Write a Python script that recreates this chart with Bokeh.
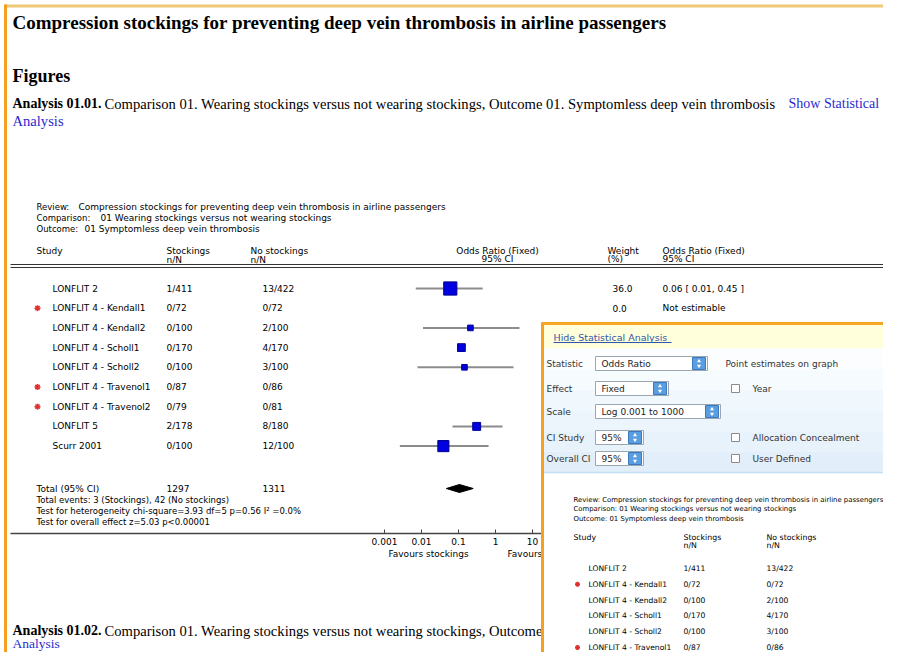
import math
from bokeh.plotting import figure
from bokeh.models import Range1d, LogScale
from bokeh.core.properties import value
from bokeh.embed import file_html
from bokeh.resources import INLINE

nan = float("nan")

# ---------------- data ----------------
page_title = "Compression stockings for preventing deep vein thrombosis in airline passengers"
section_title = "Figures"
analysis1_bold = "Analysis 01.01."
analysis1_text = "Comparison 01. Wearing stockings versus not wearing stockings, Outcome 01. Symptomless deep vein thrombosis"
analysis2_bold = "Analysis 01.02."
analysis2_text = "Comparison 01. Wearing stockings versus not wearing stockings, Outcome"
review_labels = ["Review:", "Comparison:", "Outcome:"]
review_values = ["Compression stockings for preventing deep vein thrombosis in airline passengers",
                 "01 Wearing stockings versus not wearing stockings",
                 "01 Symptomless deep vein thrombosis"]

studies = ["LONFLIT 2", "LONFLIT 4 - Kendall1", "LONFLIT 4 - Kendall2", "LONFLIT 4 - Scholl1",
           "LONFLIT 4 - Scholl2", "LONFLIT 4 - Travenol1", "LONFLIT 4 - Travenol2", "LONFLIT 5",
           "Scurr 2001"]
excluded = [False, True, False, False, False, True, True, False, False]
stock_events = [1, 0, 0, 0, 0, 0, 0, 2, 0]
stock_n = [411, 72, 100, 170, 100, 87, 79, 178, 100]
nostock_events = [13, 0, 2, 4, 3, 0, 0, 8, 12]
nostock_n = [422, 72, 100, 170, 100, 86, 81, 180, 100]
weights = [36.0, 0.0, 6.5, 12.5, 6.5, 0.0, 0.0, 13.0, 25.5]
or_est = [0.06, nan, 0.21, 0.12, 0.145, nan, nan, 0.31, 0.039]
or_lo = [0.007, nan, 0.011, nan, 0.0078, nan, nan, 0.069, 0.0026]
or_hi = [0.45, nan, 4.45, nan, 3.06, nan, nan, 1.55, 0.65]
total_est, total_lo, total_hi = 0.106, 0.047, 0.25
heterogeneity = "Test for heterogeneity chi-square=3.93 df=5 p=0.56 I\u00b2 =0.0%"
overall = "Test for overall effect z=5.03 p<0.00001"
axis_ticks = [0.001, 0.01, 0.1, 1, 10, 100, 1000]
axis_labels = ["0.001", "0.01", "0.1", "1", "10", "100", "1000"]

dlg_rows = [("Statistic", "Odds Ratio", 112, "Point estimates on graph", False),
            ("Effect", "Fixed", 73, "Year", True),
            ("Scale", "Log 0.001 to 1000", 125, "", False),
            ("CI Study", "95%", 48, "Allocation Concealment", True),
            ("Overall CI", "95%", 48, "User Defined", True)]

# ---------------- figure ----------------
W, H = 883, 652
p = figure(width=W, height=H, x_range=Range1d(0, W), y_range=Range1d(H, 0),
           toolbar_location=None, output_backend="svg", min_border=0,
           x_axis_location=None, y_axis_location=None, outline_line_color=None)
p.grid.visible = False
# log scale for the forest plot: 1 at px 495, 37 px per decade
C1, DEC = 495.0, 37.0
p.extra_x_ranges = {"or": Range1d(10 ** ((0 - C1) / DEC), 10 ** ((W - C1) / DEC))}
p.extra_x_scales = {"or": LogScale()}

SERIF = "Liberation Serif"
SANS = "DejaVu Sans"


def txt(x, y, s, size, font=SANS, color="#000000", bold=False, align="left", rng="default"):
    p.text(x=[x], y=[y], text=[s], text_font=value(font), text_font_size=f"{size}px",
           text_color=color, text_font_style="bold" if bold else "normal",
           text_align=align, text_baseline="middle", x_range_name=rng)


# page frame
p.segment(x0=[4], x1=[W], y0=[5.5], y1=[5.5], line_color="#f0c878", line_width=3)
p.segment(x0=[5], x1=[5], y0=[4], y1=[H], line_color="#f5a020", line_width=3)

# page text
txt(12, 22, page_title, 19, SERIF, bold=True)
txt(12, 75, section_title, 18, SERIF, bold=True)
txt(12, 103, analysis1_bold, 14, SERIF, bold=True)
txt(104, 103, analysis1_text, 14.6, SERIF)
txt(788, 103, "Show Statistical", 14, SERIF, color="#2a2ad0")
txt(12, 120, "Analysis", 14.6, SERIF, color="#2a2ad0")
txt(12, 630, analysis2_bold, 14, SERIF, bold=True)
txt(104, 630, analysis2_text, 14.6, SERIF)
txt(12, 643, "Analysis", 13.5, SERIF, color="#2a2ad0")

# forest plot header
FS = 9
rv_x = [78, 100, 84]
for i in range(3):
    txt(36, 206 + 11 * i, review_labels[i], 8.5)
    txt(rv_x[i], 206 + 11 * i, review_values[i], 9)
txt(36, 250, "Study", FS)
txt(166, 250, "Stockings", FS)
txt(166, 259, "n/N", FS)
txt(250, 250, "No stockings", FS)
txt(250, 259, "n/N", FS)
txt(497, 250, "Odds Ratio (Fixed)", FS, align="center")
txt(497, 258, "95% CI", FS, align="center")
txt(607, 250, "Weight", FS)
txt(607, 258, "(%)", FS)
txt(662, 250, "Odds Ratio (Fixed)", FS)
txt(662, 258, "95% CI", FS)
p.segment(x0=[10, 10], x1=[W, W], y0=[264, 267], y1=[264, 267], line_color="#333333", line_width=1)

ROW0, ROWH = 288.0, 19.7
ys = [ROW0 + ROWH * i for i in range(len(studies))]
for i, s in enumerate(studies):
    txt(52, ys[i], s, FS)
    txt(166, ys[i], f"{stock_events[i]}/{stock_n[i]}", FS)
    txt(262, ys[i], f"{nostock_events[i]}/{nostock_n[i]}", FS)
    txt(612, ys[i], f"{weights[i]:.1f}", FS)
    if math.isnan(or_est[i]):
        ortxt = "Not estimable"
    else:
        lo = or_lo[i] if not math.isnan(or_lo[i]) else or_est[i]
        hi = or_hi[i] if not math.isnan(or_hi[i]) else or_est[i]
        ortxt = f"{or_est[i]:.2f} [ {lo:.2f}, {hi:.2f} ]"
    txt(662, ys[i], ortxt, FS)

star_y = [ys[i] for i in range(len(studies)) if excluded[i]]
p.scatter(x=[37] * len(star_y), y=star_y, marker="asterisk", size=6, line_color="#e03030", line_width=1.5)

# CI lines and squares (log scale)
p.segment(x0=or_lo, x1=or_hi, y0=ys, y1=ys, line_color="#8c8c8c", line_width=2, x_range_name="or")
sizes = [2.2 * math.sqrt(w) if w > 0 else 0 for w in weights]
p.scatter(x=or_est, y=ys, size=sizes, marker="square", fill_color="#0000e0", line_color="#000090",
          x_range_name="or")

# totals
ty = 488
txt(36, ty, "Total (95% CI)", FS)
txt(166, ty, f"{sum(stock_n)}", FS)
txt(262, ty, f"{sum(nostock_n)}", FS)
txt(36, 499, f"Total events: {sum(stock_events)} (Stockings), {sum(nostock_events)} (No stockings)", 8.5)
txt(36, 510, heterogeneity, 8.5)
txt(36, 521, overall, 8.5)
p.patch(x=[total_lo, total_est, total_hi, total_est], y=[ty, ty - 4, ty, ty + 4],
        fill_color="#000000", line_color="#000000", x_range_name="or")

# axis
p.segment(x0=[10], x1=[W], y0=[533], y1=[533], line_color="#444444", line_width=1.5)
p.segment(x0=axis_ticks, x1=axis_ticks, y0=[529] * 7, y1=[533] * 7, line_color="#444444",
          x_range_name="or")
p.text(x=axis_ticks, y=[541] * 7, text=axis_labels, text_font=value(SANS), text_font_size="9px",
       text_align="center", text_baseline="middle", x_range_name="or")
txt(428, 553, "Favours stockings", FS, align="center")
txt(507, 553, "Favours no stockings", FS)

# ---------------- dialog overlay ----------------
DX, DY = 541, 322
R, B = W, H
p.quad(left=[DX], right=[R], top=[DY], bottom=[B], fill_color="#ffffff", line_color=None)
p.quad(left=[DX], right=[R], top=[DY], bottom=[348], fill_color="#ffffdc", line_color=None)
bands = ["#fbfdff", "#f6fbfe", "#f1f8fd", "#ecf5fc", "#e7f2fb", "#e2effa"]
bh = (472 - 348) / len(bands)
for k, c in enumerate(bands):
    p.quad(left=[DX], right=[R], top=[348 + k * bh], bottom=[348 + (k + 1) * bh], fill_color=c, line_color=None)
p.segment(x0=[DX], x1=[R], y0=[472], y1=[472], line_color="#c4dff2", line_width=1.5)
p.segment(x0=[DX + 1], x1=[DX + 1], y0=[DY], y1=[B], line_color="#f5a020", line_width=3)
p.segment(x0=[DX], x1=[R], y0=[DY + 1], y1=[DY + 1], line_color="#f5a623", line_width=3)

txt(553, 337, "Hide Statistical Analysis", 9.5, SANS, color="#3355aa")
p.segment(x0=[553], x1=[671], y0=[342], y1=[342], line_color="#3355aa", line_width=1)

row_y = [363, 388, 411, 437, 458]
for (lab, sel, sw, right, box), yy in zip(dlg_rows, row_y):
    txt(546, yy, lab, 9, SANS, color="#333333")
    x0 = 595
    p.quad(left=[x0], right=[x0 + sw], top=[yy - 7], bottom=[yy + 7], fill_color="#ffffff",
           line_color="#9aa6b2", line_width=1)
    txt(x0 + 6, yy, sel, 9, SANS, color="#222222")
    p.quad(left=[x0 + sw - 15], right=[x0 + sw - 2], top=[yy - 6], bottom=[yy + 6],
           fill_color="#5a9ee0", line_color="#3a78c0")
    p.scatter(x=[x0 + sw - 8.5, x0 + sw - 8.5], y=[yy - 2.5, yy + 2.5], marker="triangle", size=4,
              fill_color="#ffffff", line_color=None, angle=[0, math.pi])
    if box:
        p.quad(left=[731], right=[739], top=[yy - 4], bottom=[yy + 4], fill_color="#ffffff",
               line_color="#8a8a8a")
        txt(752, yy, right, 9, SANS, color="#333333")
    elif right:
        txt(725, yy, right, 9, SANS, color="#333333")

# small copy of the forest plot inside the dialog
for i in range(3):
    txt(573, 499 + 9.5 * i, review_labels[i] + " " + review_values[i], 6.9)
txt(573, 537, "Study", 7.8)
txt(683, 537, "Stockings", 7.8)
txt(683, 545, "n/N", 7.8)
txt(766, 537, "No stockings", 7.8)
txt(766, 545, "n/N", 7.8)
DR0, DRH = 568, 15.8
for i, s in enumerate(studies):
    yy = DR0 + DRH * i
    if yy > B - 5:
        break
    txt(588, yy, s, 7.6)
    txt(683, yy, f"{stock_events[i]}/{stock_n[i]}", 7.6)
    txt(766, yy, f"{nostock_events[i]}/{nostock_n[i]}", 7.6)
    if excluded[i]:
        p.scatter(x=[577], y=[yy], marker="asterisk", size=5, line_color="#e03030", line_width=1.5)

open("out.html", "w").write(file_html(p, INLINE))
